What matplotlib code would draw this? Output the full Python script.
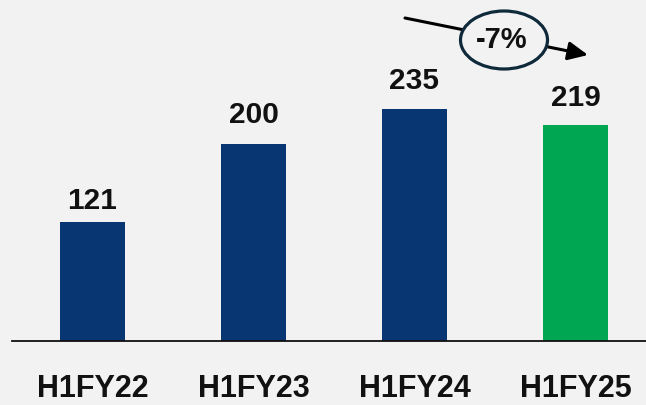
import matplotlib
matplotlib.use("Agg")
import matplotlib.pyplot as plt
from matplotlib.patches import Ellipse

periods = ["H1FY22", "H1FY23", "H1FY24", "H1FY25"]
values = [121, 200, 235, 219]
bar_colors = ["#073673", "#073673", "#073673", "#00a651"]
label_gap = [13, 21, 20, 19]  # px between bar top and its value label

BG = "#f2f2f2"
FONT = "Liberation Sans"

# pixel geometry of the 646x405 canvas
X0, DX = 92.5, 161.0      # first bar centre, spacing
Y0, SY = 341.0, 0.987     # baseline (from top), px per unit
W, H = 646, 405


def px(x, y):
    """pixel (from top-left) -> data coords"""
    return (x - X0) / DX, (Y0 - y) / SY


fig = plt.figure(figsize=(W / 100, H / 100), dpi=100, facecolor=BG)
ax = fig.add_axes([0, 0, 1, 1])
ax.set_facecolor(BG)
ax.set_xlim(px(0, 0)[0], px(W, 0)[0])
ax.set_ylim(px(0, H)[1], px(0, 0)[1])
ax.axis("off")

xs = list(range(len(periods)))
ax.bar(xs, values, width=65 / DX, color=bar_colors, zorder=2)

# baseline
ax.plot([px(12, 0)[0], px(W, 0)[0]], [0, 0], color="#111111", lw=1.3, zorder=3)

for x, v, g in zip(xs, values, label_gap):
    ax.text(x, v + g / SY, f"{v}", ha="center", va="baseline",
            fontsize=21.5, fontweight="bold", family=FONT, color="#111111")

for x, name in zip(xs, periods):
    ax.text(x, px(0, 404)[1], name, ha="center", va="bottom",
            fontsize=22, fontweight="bold", family=FONT, color="#111111")

# change between the last two periods
pct = (values[3] - values[2]) / values[2] * 100
ax.annotate("", xy=px(588, 55), xytext=px(405, 18),
            arrowprops=dict(arrowstyle="-|>,head_length=0.6,head_width=0.28",
                            mutation_scale=20, color="black", lw=2.2,
                            shrinkA=0, shrinkB=0),
            zorder=4)
cx, cy = px(504, 40)
ax.add_patch(Ellipse((cx, cy), 87 / DX, 58 / SY, facecolor=BG,
                     edgecolor="#0e2a3a", lw=2.3, zorder=5))
ax.text(cx - 2 / DX, cy, f"{pct:.0f}%", ha="center", va="center",
        fontsize=21, fontweight="bold", family=FONT, color="#111111", zorder=6)

fig.savefig("out.png", dpi=100, facecolor=BG)
